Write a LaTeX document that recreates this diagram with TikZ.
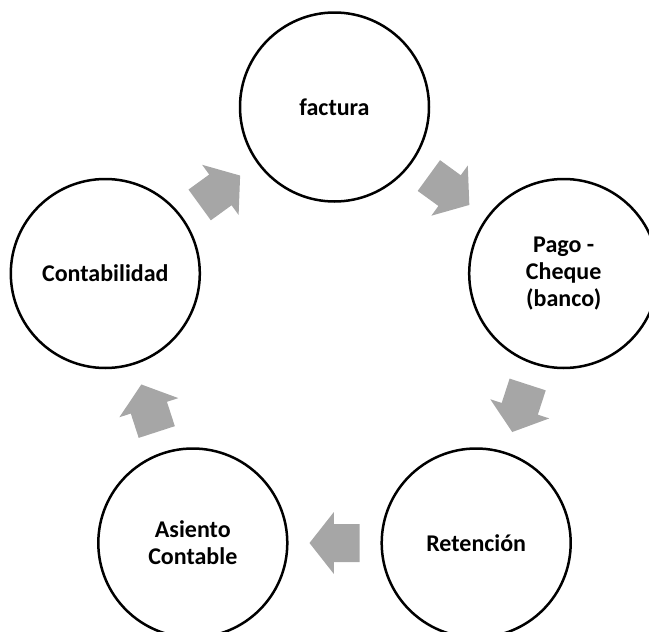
\documentclass[tikz,border=0pt]{standalone}
\usepackage{fontspec}
\setmainfont{Carlito}
\usetikzlibrary{calc}
\definecolor{arrowgray}{HTML}{A6A6A6}
\newcommand\cyclearrow[2]{%
  \path ($(#1.center)!0.5!(#2.center)$) coordinate (mid-#1);
  \pgfmathanglebetweenpoints{\pgfpointanchor{#1}{center}}{\pgfpointanchor{#2}{center}}%
  \let\arrang\pgfmathresult
  \fill[arrowfill, shift={(mid-#1)}, rotate=\arrang]
    (-25,19) -- (0.6,19) -- (0.6,31) -- (25,0) -- (0.6,-31) -- (0.6,-19) -- (-25,-19) -- cycle;
}
\begin{document}
\begin{tikzpicture}[x={(1pt,0)}, y={(0,-1pt)},
  cyc/.style={circle, draw=black, fill=white, line width=2.5pt, minimum size=189pt,
    inner sep=0pt, align=center, text=black,
    font=\bfseries\fontsize{24}{27}\selectfont},
  arrowfill/.style={fill=arrowgray}]
\useasboundingbox (0,0) rectangle (649,632);
\clip (0,0) rectangle (649,632);
\node[cyc] (fac) at (334.5,107) {factura};
\node[cyc] (pago) at (563.7,273.5) {Pago -\\Cheque\\(banco)};
\node[cyc] (ret) at (476.2,543) {Retención};
\node[cyc] (asi) at (192.8,543) {Asiento\\Contable};
\node[cyc] (con) at (105.3,273.5) {Contabilidad};
\cyclearrow{fac}{pago}
\cyclearrow{pago}{ret}
\cyclearrow{ret}{asi}
\cyclearrow{asi}{con}
\cyclearrow{con}{fac}
\end{tikzpicture}
\end{document}
